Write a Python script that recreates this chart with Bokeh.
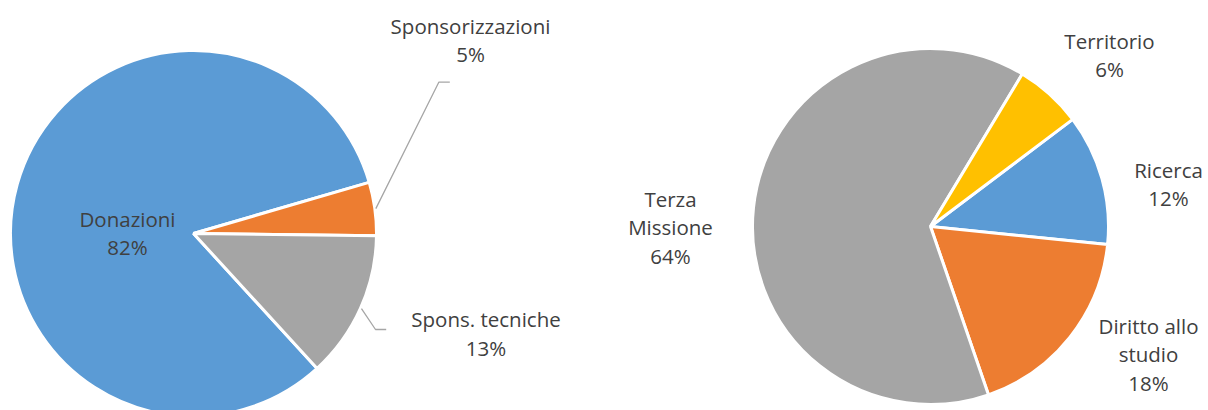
import numpy as np
from bokeh.plotting import figure
from bokeh.models import Range1d, ColumnDataSource
from bokeh.embed import file_html
from bokeh.resources import INLINE
from bokeh.core.properties import value

# ---------------- data ----------------
left_categories = ["Donazioni", "Sponsorizzazioni", "Spons. tecniche"]
left_values = [82.3, 4.7, 13.0]

right_categories = ["Ricerca", "Diritto allo studio", "Terza Missione", "Territorio"]
right_values = [11.9, 18.1, 63.9, 6.1]

# ---------------- styles / layout ----------------
left_colors = ["#5B9BD5", "#ED7D31", "#A5A5A5"]
right_colors = ["#5B9BD5", "#ED7D31", "#A5A5A5", "#FFC000"]

wrap = {"Diritto allo studio": ["Diritto allo", "studio"],
        "Terza Missione": ["Terza", "Missione"]}

# label anchors in picture pixels: (center x, first baseline y)
BASE_SHIFT = -8
left_label_pos = [(127, 226), (470, 33.3), (485.5, 326.7)]
right_label_pos = [(1168, 177.3), (1148, 333), (670, 206), (1109, 48.3)]
LINE_STEP = 28.5

# leader lines (elbow, end) in picture pixels; None = no leader
left_leaders = [None, ((438.3, 81.7), (449.3, 81.7)), ((375, 329), (385.7, 329))]

W, H = 1208, 410


def Y(sy):
    return H - sy


p = figure(width=W, height=H, output_backend="svg", toolbar_location=None,
           x_range=Range1d(0, W), y_range=Range1d(0, H),
           x_axis_type=None, y_axis_type=None, min_border=0)
p.grid.visible = False
p.outline_line_color = None
p.background_fill_color = "white"
p.border_fill_color = "white"


def pie(cx, cy, r, values, colors, start_deg):
    fr = np.array(values, dtype=float) / float(sum(values))
    ends = start_deg - np.cumsum(fr) * 360.0
    starts = np.concatenate([[start_deg], ends[:-1]])
    n = len(values)
    src = ColumnDataSource(dict(x=[cx] * n, y=[Y(cy)] * n,
                                start=np.radians(starts), end=np.radians(ends),
                                color=colors))
    p.wedge(x="x", y="y", radius=r, start_angle="start", end_angle="end",
            direction="clock", fill_color="color", line_color="white",
            line_width=3, source=src)
    return (starts + ends) / 2.0


def labels(categories, values, positions):
    xs, ys, ts = [], [], []
    for cat, v, (lx, ly) in zip(categories, values, positions):
        lines = wrap.get(cat, [cat]) + [f"{round(v)}%"]
        for i, t in enumerate(lines):
            xs.append(lx)
            ys.append(Y(ly + BASE_SHIFT + i * LINE_STEP))
            ts.append(t)
    p.text(x=xs, y=ys, text=ts, text_font=value("Open Sans"),
           text_font_size="20.5px", text_color="#404040",
           text_align="center", text_baseline="alphabetic")


# left pie
LCX, LCY, LR = 193, 233, 183
lmid = pie(LCX, LCY, LR, left_values, left_colors, -47.5)
for mid, ld in zip(lmid, left_leaders):
    if ld is None:
        continue
    sx = LCX + (LR + 1) * np.cos(np.radians(mid))
    sy = LCY - (LR + 1) * np.sin(np.radians(mid))
    (ex, ey), (fx, fy) = ld
    p.line([sx, ex, fx], [Y(sy), Y(ey), Y(fy)], line_color="#A6A6A6", line_width=1.3)
labels(left_categories, left_values, left_label_pos)

# right pie
RCX, RCY, RR = 930, 226, 178
pie(RCX, RCY, RR, right_values, right_colors, 37.0)
labels(right_categories, right_values, right_label_pos)

open("out.html", "w").write(file_html(p, INLINE))
